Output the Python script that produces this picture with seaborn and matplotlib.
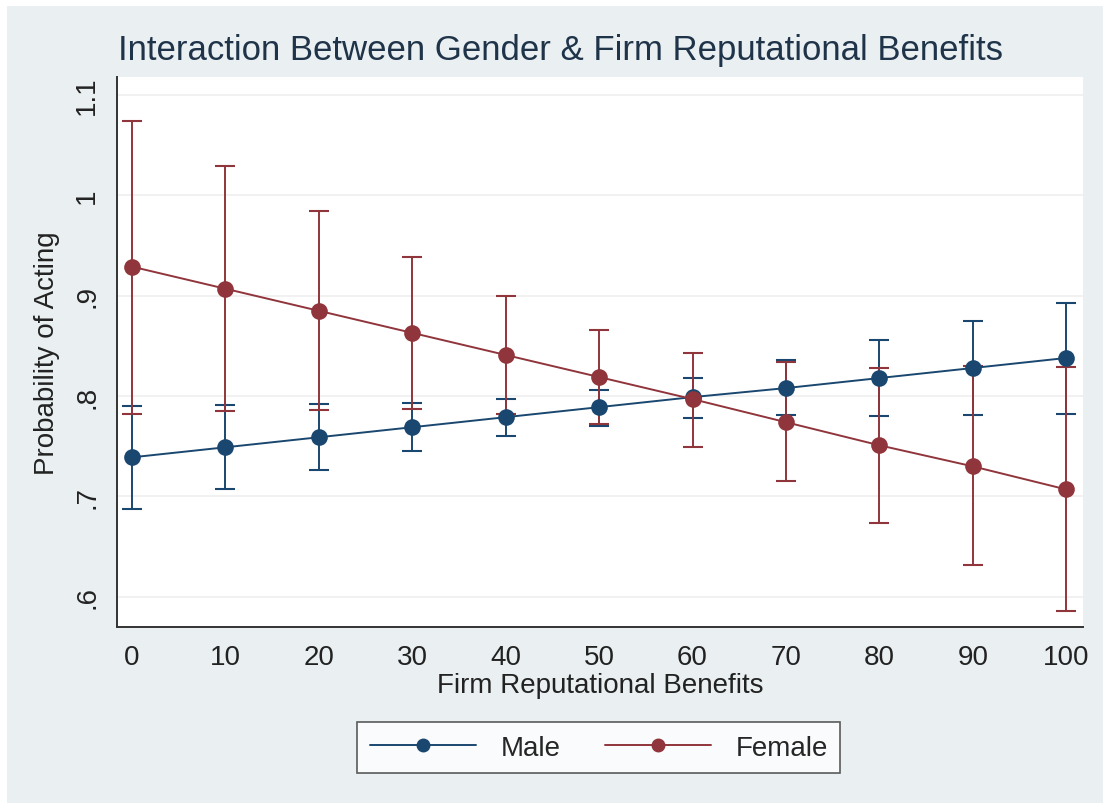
import numpy as np
import pandas as pd
import seaborn as sns
import matplotlib.pyplot as plt
from matplotlib.patches import Rectangle

# values
benefits = [0, 10, 20, 30, 40, 50, 60, 70, 80, 90, 100]
male_prob = [0.739, 0.749, 0.759, 0.769, 0.779, 0.789, 0.799, 0.808, 0.818, 0.828, 0.838]
male_lo = [0.688, 0.707, 0.726, 0.745, 0.760, 0.770, 0.778, 0.781, 0.780, 0.781, 0.782]
male_hi = [0.790, 0.791, 0.792, 0.793, 0.797, 0.806, 0.818, 0.836, 0.856, 0.875, 0.893]
female_prob = [0.929, 0.907, 0.885, 0.863, 0.841, 0.819, 0.797, 0.774, 0.751, 0.730, 0.707]
female_lo = [0.782, 0.785, 0.786, 0.787, 0.782, 0.772, 0.749, 0.715, 0.674, 0.632, 0.586]
female_hi = [1.074, 1.029, 0.984, 0.939, 0.900, 0.866, 0.843, 0.834, 0.828, 0.830, 0.829]
yticks = [0.6, 0.7, 0.8, 0.9, 1.0, 1.1]
ytick_labels = ['.6', '.7', '.8', '.9', '1', '1.1']

navy = '#1a476f'
maroon = '#90353b'
bg = '#eaf0f2'

df = pd.DataFrame({
    'benefits': benefits * 2,
    'prob': male_prob + female_prob,
    'gender': ['Male'] * len(benefits) + ['Female'] * len(benefits),
})

sns.set_style('white')
plt.rcParams['font.family'] = ['Liberation Sans', 'DejaVu Sans']

fig = plt.figure(figsize=(11.03, 8.04), dpi=100, facecolor=bg)
ax = fig.add_axes([0.1061, 0.219, 0.8758, 0.684])
ax.set_facecolor('white')

# confidence intervals
for prob, lo, hi, col in [(male_prob, male_lo, male_hi, navy),
                          (female_prob, female_lo, female_hi, maroon)]:
    p = np.array(prob)
    err = [p - np.array(lo), np.array(hi) - p]
    ax.errorbar(benefits, p, yerr=err, fmt='none', ecolor=col,
                elinewidth=1.4, capsize=7, capthick=1.5, zorder=2)

sns.lineplot(data=df, x='benefits', y='prob', hue='gender',
             palette={'Male': navy, 'Female': maroon}, marker='o',
             markersize=12, markeredgewidth=0, linewidth=1.4,
             ax=ax, zorder=3, legend=False)

ax.set_xlim(-1.6, 101.8)
ax.set_ylim(0.570, 1.118)
ax.set_xticks(benefits)
ax.set_yticks(yticks)
ax.set_yticklabels(ytick_labels, rotation=90, va='center')
ax.tick_params(axis='both', labelsize=20, length=8, width=1.2,
               color='#333333', labelcolor='#222222', direction='out')
ax.tick_params(axis='x', pad=4)
ax.tick_params(axis='y', pad=4)
ax.grid(axis='y', color='#efefef', linewidth=1.2)
ax.set_axisbelow(True)
for s in ['top', 'right']:
    ax.spines[s].set_visible(False)
for s in ['left', 'bottom']:
    ax.spines[s].set_color('#333333')
    ax.spines[s].set_linewidth(1.4)

ax.set_xlabel('Firm Reputational Benefits', fontsize=20, color='#222222', labelpad=2)
ax.set_ylabel('Probability of Acting', fontsize=20, color='#222222', labelpad=10)

fig.text(0.508, 0.937, 'Interaction Between Gender & Firm Reputational Benefits',
         ha='center', va='center', fontsize=25, color='#1f3349')

handles = [plt.Line2D([], [], color=navy, marker='o', markersize=9, linewidth=1.4),
           plt.Line2D([], [], color=maroon, marker='o', markersize=9, linewidth=1.4)]
leg = fig.legend(handles, ['Male', 'Female'], loc='center',
                 bbox_to_anchor=(0.543, 0.0685), ncol=2, fontsize=20,
                 frameon=True, fancybox=False, edgecolor='#333333',
                 handlelength=3.8, columnspacing=1.6, handletextpad=0.9,
                 borderpad=0.45)
leg.get_frame().set_linewidth(1.2)
leg.get_frame().set_facecolor('white')

# white margins at the top and left, as in the cropped screenshot
fig.patches.append(Rectangle((0, 1 - 7 / 804), 1, 7 / 804, transform=fig.transFigure,
                             facecolor='white', edgecolor='none', zorder=10))
fig.patches.append(Rectangle((0, 0), 7 / 1103, 1, transform=fig.transFigure,
                             facecolor='white', edgecolor='none', zorder=10))

fig.savefig('out.png', dpi=100, facecolor=bg)
